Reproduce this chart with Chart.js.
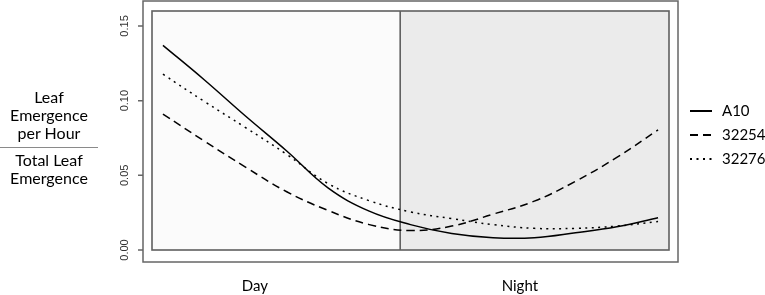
<!DOCTYPE html>
<html>
<head>
<meta charset="utf-8">
<script src="https://cdn.jsdelivr.net/npm/chart.js@4"></script>
<style>
  body { margin: 0; background: #fff; }
  #wrap { position: relative; width: 765px; height: 295px; font-family: Lato, sans-serif; color: #000; }
  #chart { position: absolute; left: 0; top: 0; }
  .ylab { position: absolute; left: 0; width: 98px; text-align: center; font-size: 16px; line-height: 18px; }
  #frac { position: absolute; left: 0; top: 147px; width: 98px; border-top: 1.5px solid #8a8a8a; }
</style>
</head>
<body>
<div id="wrap">
  <canvas id="chart" width="765" height="295"></canvas>
  <div class="ylab" style="top:88px">Leaf<br>Emergence<br>per Hour</div>
  <div id="frac"></div>
  <div class="ylab" style="top:151px">Total Leaf<br>Emergence</div>
</div>
<script>
// hours across the day/night cycle
const hours = [0, 2, 4, 6, 8, 10, 12, 14, 16, 18, 20, 22, 24];
const a10 = [0.137, 0.114, 0.0897, 0.0663, 0.0416, 0.026, 0.017, 0.011, 0.0082, 0.0082, 0.0115, 0.0155, 0.0216];
const s32254 = [0.091, 0.073, 0.0555, 0.039, 0.0265, 0.017, 0.013, 0.016, 0.024, 0.0327, 0.046, 0.062, 0.0804];
const s32276 = [0.1177, 0.0995, 0.082, 0.064, 0.0445, 0.033, 0.0255, 0.021, 0.017, 0.0145, 0.0145, 0.016, 0.019];
const seriesNames = ['A10', '32254', '32276'];
const yTicks = [0, 0.05, 0.10, 0.15];
const periodLabels = ['Day', 'Night'];
const periodLabelPos = [4.46, 17.3];
const nightStart = 11.5;

const dashes = [[], [8, 5], [2, 4.5]];

function toPoints(vals) {
    return hours.map((h, i) => ({ x: h, y: vals[i] }));
}

// R style panel: shaded day/night, frames, tick marks and legend
const panelPlugin = {
    id: 'panel',
    beforeDatasetsDraw(chart) {
        const { ctx, chartArea: a, scales } = chart;
        const xn = scales.x.getPixelForValue(nightStart);
        ctx.save();
        ctx.fillStyle = '#fbfbfb';
        ctx.fillRect(a.left, a.top, xn - a.left, a.bottom - a.top);
        ctx.fillStyle = '#ebebeb';
        ctx.fillRect(xn, a.top, a.right - xn, a.bottom - a.top);
        ctx.strokeStyle = '#606060';
        ctx.lineWidth = 1.6;
        ctx.strokeRect(a.left, a.top, a.right - a.left, a.bottom - a.top);
        ctx.beginPath();
        ctx.moveTo(xn, a.top);
        ctx.lineTo(xn, a.bottom);
        ctx.stroke();
        ctx.restore();
    },
    afterDraw(chart) {
        const { ctx, chartArea: a, scales } = chart;
        ctx.save();
        ctx.strokeStyle = '#666';
        ctx.lineWidth = 1.5;
        const ol = a.left - 9, or = a.right + 9, ot = a.top - 10, ob = a.bottom + 12;
        ctx.strokeRect(ol, ot, or - ol, ob - ot);
        ctx.beginPath();
        yTicks.forEach(v => {
            const y = scales.y.getPixelForValue(v);
            ctx.moveTo(ol - 5, y);
            ctx.lineTo(ol, y);
        });
        ctx.stroke();

        // rotated tick labels, read bottom to top
        ctx.font = '11px "Liberation Sans"';
        ctx.fillStyle = '#333';
        ctx.textAlign = 'center';
        ctx.textBaseline = 'middle';
        yTicks.forEach(v => {
            const y = scales.y.getPixelForValue(v);
            ctx.save();
            ctx.translate(125, y);
            ctx.rotate(-Math.PI / 2);
            ctx.fillText(v.toFixed(2), 0, 0);
            ctx.restore();
        });

        // legend
        ctx.font = '15px Lato';
        ctx.textAlign = 'left';
        ctx.fillStyle = '#000';
        chart.data.datasets.forEach((ds, i) => {
            const y = 111 + i * 24;
            ctx.strokeStyle = '#000';
            ctx.lineWidth = 2;
            ctx.setLineDash(ds.borderDash);
            ctx.beginPath();
            ctx.moveTo(690, y);
            ctx.lineTo(712, y);
            ctx.stroke();
            ctx.setLineDash([]);
            ctx.fillText(ds.label, 722, y);
        });
        ctx.restore();
    }
};

new Chart(document.getElementById('chart'), {
    type: 'line',
    data: {
        datasets: [a10, s32254, s32276].map((vals, i) => ({
            label: seriesNames[i],
            data: toPoints(vals),
            borderColor: '#000',
            borderWidth: 1.5,
            borderDash: dashes[i],
            pointRadius: 0,
            fill: false,
            tension: 0.4
        }))
    },
    options: {
        responsive: false,
        animation: false,
        devicePixelRatio: 1,
        layout: { padding: { top: 11, right: 96, bottom: 0, left: 0 } },
        plugins: { legend: { display: false }, tooltip: { enabled: false } },
        scales: {
            x: {
                type: 'linear',
                min: -0.53,
                max: 24.53,
                grid: { display: false },
                border: { display: false },
                afterBuildTicks: s => { s.ticks = periodLabelPos.map(v => ({ value: v })); },
                afterFit: s => { s.height = 45; },
                ticks: {
                    autoSkip: false,
                    maxRotation: 0,
                    padding: 19,
                    color: '#000',
                    font: { family: 'Lato', size: 15 },
                    callback: (v, i) => periodLabels[i]
                }
            },
            y: {
                min: 0,
                max: 0.16,
                grid: { display: false },
                border: { display: false },
                afterBuildTicks: s => { s.ticks = yTicks.map(v => ({ value: v })); },
                afterFit: s => { s.width = 152; },
                ticks: { display: false }
            }
        }
    },
    plugins: [panelPlugin]
});
</script>
</body>
</html>
